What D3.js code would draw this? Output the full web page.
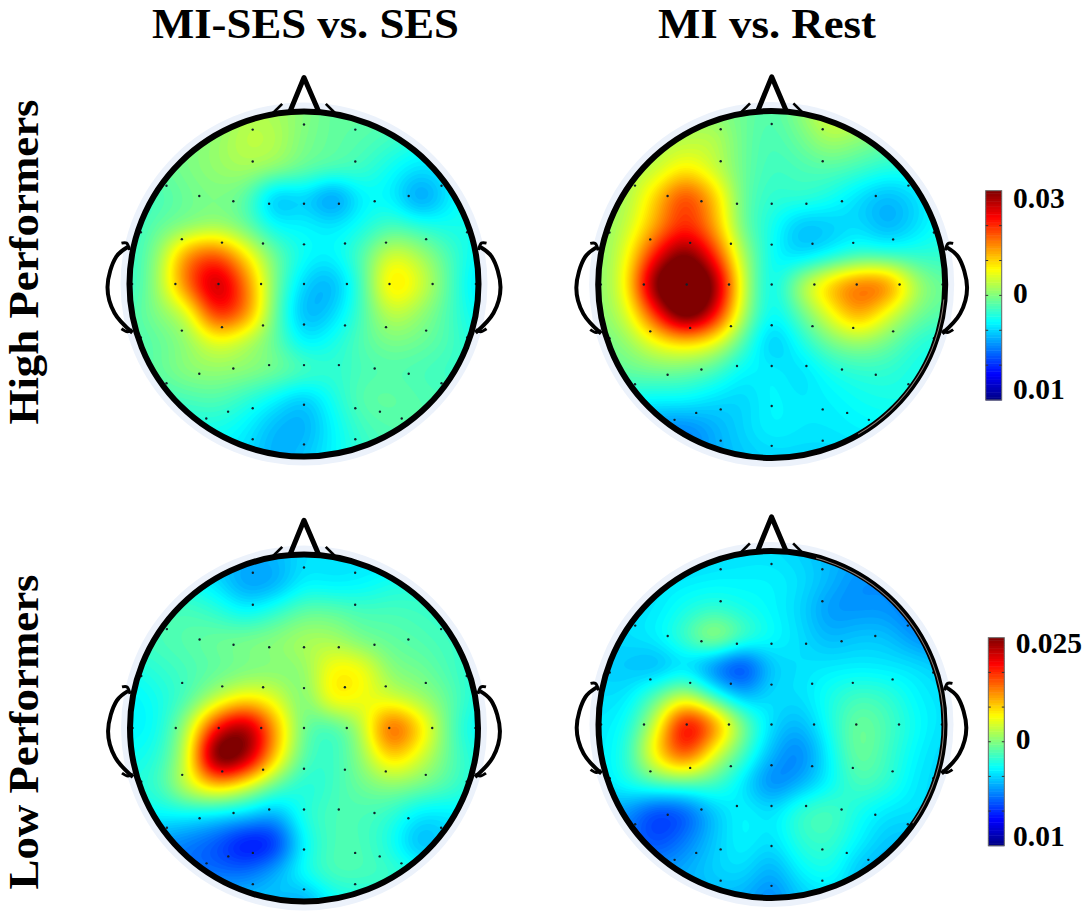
<!DOCTYPE html>
<html>
<head>
<meta charset="utf-8">
<script src="https://cdn.jsdelivr.net/npm/d3@7"></script>
<style>
html, body { margin: 0; padding: 0; background: #fff; }
text { font-family: "Liberation Serif", serif; font-weight: bold; fill: #000; }
</style>
</head>
<body>
<svg id="chart" width="1084" height="915"></svg>
<script>
// levels, -10 = bottom of colour bar, 0 = middle, 10 = top
// every map is 13 x 13 nodes over the head, top row first, left column first
var miSesHigh = [
  [0,0,0,0,1,.8,.2,-.5,-.5,-.8,-1,-1,-1],
  [-.5,-.5,0,.5,1.3,1.1,0,-.5,-.8,-1.2,-1.8,-2,-2],
  [-1,-.5,0,.5,.8,.3,-.5,-1,-1.3,-2.2,-3,-2.5,-2],
  [-1.5,-1,-.3,0,-.7,-3.6,-3.2,-4.6,-2.6,-2.6,-4.4,-2.8,-1.5],
  [-1.5,-.5,.3,.8,-.3,-2.3,-2.5,-2.8,-2,-1,-1.6,-2,-2],
  [-1.5,.5,4.8,6,3,-.3,-2.2,-2.5,-.8,1.8,.8,-1,-2.5],
  [-1.5,.8,5.5,9,5.2,0,-3.2,-3.8,-1,3.2,1.8,-.8,-3],
  [-1,.2,2,7,5,-.3,-3.8,-3.2,-1,1.4,.5,-1,-2.5],
  [-1,-.5,.5,2.2,1.2,-.5,-2.6,-2,-.8,0,-.3,-1,-2],
  [-1,-.5,.3,.5,.3,-.2,-1,-1.5,-1,-.8,-1,-1.3,-1.5],
  [-1.3,-1.3,-1,-.8,-1.5,-2.5,-3.4,-2,-.7,-.5,-.8,-1,-1],
  [-2,-2,-2,-2,-2.6,-3.8,-4,-2.5,-1.2,-.8,-.8,-.8,-.8],
  [-2,-2,-2,-2.5,-3,-4,-3.5,-2.5,-1.5,-1,-1,-1,-1]
];
var miRestHigh = [
  [0,0,0,.2,.3,-.3,-.8,.3,2,1.8,.5,0,0],
  [0,.5,.8,1.2,1.2,-.3,-1,-.3,.8,.3,-.3,-.5,-.5],
  [.3,.8,1.5,2.9,1.6,-.3,-1.2,-1,-.8,-1.2,-1.8,-1.8,-1.5],
  [.5,1,3.6,6.4,3.8,-.3,-1.5,-1.5,-2,-3,-3.8,-3,-2],
  [.3,1.5,4.5,7,4.5,-.2,-2,-3.6,-3.4,-3,-3.9,-3,-2],
  [.2,2.4,7.5,10.5,7,1,-2.2,-3,-2.2,-1.2,-1.3,-1.5,-1.5],
  [.2,2.9,10.5,13,10,1.8,-2.3,.8,3.6,5.4,5,1,-.5],
  [.2,1.9,7,11.5,8,1.2,-2.4,-.5,2.2,4.4,2.2,0,-.8],
  [-.3,.5,2.4,3.4,2.3,-.8,-3.5,-2,-.2,.6,-.2,-1.5,-2],
  [-.8,-.5,-.2,-.3,-1,-2.5,-2.6,-3,-2,-1.5,-1.5,-2,-2],
  [-2,-2.3,-2.5,-2.5,-3,-3.2,-2.5,-2.8,-2.6,-2.2,-2,-2,-2],
  [-3,-4,-4.6,-4.8,-4,-3.2,-2.6,-2.8,-2.8,-2.6,-2.5,-2.5,-2.5],
  [-4,-4,-4.5,-4.8,-4,-3.5,-3.2,-3.2,-3.2,-3,-3,-3,-3]
];
var miSesLow = [
  [-2.5,-3,-3,-3.5,-3.8,-3.8,-3,-3,-3,-3,-2.5,-2.5,-2.5],
  [-2,-2,-2.2,-3,-4.3,-4,-2.6,-2.7,-2.5,-2,-1.8,-1.8,-1.8],
  [-1.5,-1.2,-1,-1.5,-2.3,-1.5,-.5,-.5,-1,-1,-1.2,-1.5,-1.5],
  [-1.3,-1,-.7,-.3,0,.3,.9,.9,0,-.5,-.8,-1.2,-1.5],
  [-2,-1.5,-1,-.5,0,.2,.4,2.7,2.5,.3,-.2,-1,-1.8],
  [-2.6,-2,-.8,1.5,3,2,0,2.7,2.3,1.8,.8,-.5,-2],
  [-2.6,-2,1.2,7.5,9.5,4.4,-.3,-1,1.2,6,3.3,-.5,-2.5],
  [-2.2,-1.5,2,11,9.5,3.6,-.7,-1.3,.5,3.5,1.8,-.5,-2],
  [-1.8,-1.2,1.6,3.6,2,-.5,-1.8,-1.2,-.3,.3,-.2,-1,-2],
  [-2.5,-2.5,-2.5,-2.8,-3.3,-4,-1.8,-1,-1,-1.5,-2.8,-2.8,-2.5],
  [-4,-4.5,-5,-5.8,-7.2,-6.5,-2.5,-1,-1,-2,-3.8,-3,-2.5],
  [-4,-4.5,-5,-5.2,-5.2,-4,-2.2,-1,-1,-1.3,-2,-2.5,-2.5],
  [-3.5,-3.5,-3.5,-3.5,-3.5,-3.5,-4.2,-2.5,-2,-2,-2,-2,-2]
];
var miRestLow = [
  [-3.5,-3.5,-3.5,-3.5,-3.2,-3,-3,-3.3,-3.8,-4,-4.3,-4.5,-4.5],
  [-3.5,-3.3,-3,-2.8,-2.6,-2.6,-2.6,-3,-3.8,-4.6,-4.6,-5,-5],
  [-3.3,-3,-2.8,-2,-1.5,-2,-2.5,-3.2,-4.4,-4.5,-4.5,-5.2,-5.5],
  [-3.3,-3,-2.6,-1.2,.6,-1.2,-2.3,-3,-3.8,-3.5,-3.6,-4.5,-5],
  [-3.3,-3.5,-3.8,-3,-4.8,-6.2,-3.5,-3,-2.8,-2.7,-2.8,-3,-3.5],
  [-3,-2.8,-.8,1.2,-1.5,-3.8,-3,-3,-2,-1.2,-1.5,-2.5,-3],
  [-2.8,-2,1.8,7.8,5,0,-3,-3.8,-2,-.3,-1,-2.2,-3],
  [-2.8,-1.5,3,6.2,2.2,-1,-3.8,-4.8,-2.5,-.3,-1.2,-2.5,-3.2],
  [-3,-2,-.8,-.5,-1,-2.8,-4.8,-4,-2.5,-1,-1.5,-2.8,-3.2],
  [-4,-4.5,-6,-5.5,-3.5,-2.5,-3,-1.5,-1,-2,-2.8,-3,-3.2],
  [-4.5,-5,-6,-5,-3.5,-2.5,-3,-1.6,-1.3,-2.5,-3.5,-3.6,-3.6],
  [-4.5,-4.5,-4.5,-4,-3.3,-3,-4,-2.5,-2,-3.5,-4,-4,-4],
  [-4,-4,-4,-4,-3.8,-4,-4.8,-3.5,-3,-3.5,-4,-4,-4]
];

// electrode positions in head units, x right, y up
var elecX = [0,-.294,.294,-.294,.294,-.788,.788,-.6,.6,-.405,.405,-.2,.2,0,-.935,.935,-.7,.7,-.47,.47,-.235,.235,0,
  0,-.246,.246,-.49,.49,-.737,.737,-.985,.985,
  -.235,.235,0,-.47,.47,-.7,.7,-.935,.935,-.2,.2,0,-.405,.405,-.6,.6,-.788,.788,0,-.294,.294,-.435,.435,-.56,.56,-.294,.294,0];
var elecY = [.925,.895,.895,.71,.71,.57,.57,.51,.51,.48,.48,.465,.465,.465,.3,.3,.26,.26,.24,.24,.235,.235,.23,
  0,0,0,0,0,0,0,0,0,
  -.24,-.24,-.235,-.25,-.25,-.27,-.27,-.31,-.31,-.47,-.47,-.47,-.49,-.49,-.52,-.52,-.575,-.575,-.7,-.72,-.72,-.74,-.74,-.78,-.78,-.9,-.9,-.93];

var colTitles = ["MI-SES vs. SES", "MI vs. Rest"];
var rowTitles = ["High Performers", "Low Performers"];
var barTicksTop = ["0.03", "0", "0.01"];
var barTicksBottom = ["0.025", "0", "0.01"];
var barSteps = d3.range(-10, 10.01, .25);

// outline in head units
var nosePts = [[-.082,.996],[0,1.197],[.086,.996]];
var noseTickL = [[-.125,1.044],[-.182,.987]];
var noseTickR = [[.125,1.044],[.182,.987]];
var earPts = [[-1.01,.214],[-1.076,.158],[-1.126,-.017],[-1.086,-.168],[-.983,-.283]];
var earTickTop = [[-1.046,.237],[-1.017,.237],[-1,.197]];
var earTickBottom = [[-1.046,-.26],[-1.012,-.277],[-.983,-.266]];

var heads = [
  {grid: miSesHigh, cx: 304, cy: 284, rx: 174.5, ry: 172.5, rim: null},
  {grid: miRestHigh, cx: 771.7, cy: 284.5, rx: 173.5, ry: 173.5, rim: [95, 150]},
  {grid: miSesLow, cx: 304, cy: 728, rx: 174, ry: 173.5, rim: null},
  {grid: miRestLow, cx: 771.5, cy: 724.5, rx: 173, ry: 173.5, rim: [15, 125]}
];

var jetStops = [[0,0,128],[0,0,255],[0,128,255],[0,255,255],[128,255,128],[255,255,0],[255,128,0],[255,0,0],[128,0,0]];
var jet = d3.scaleLinear()
    .domain(d3.range(jetStops.length).map(function(i) { return -10 + i * 2.5; }))
    .range(jetStops.map(function(c) { return "rgb(" + c + ")"; }))
    .clamp(true);

var svg = d3.select("#chart");

// Catmull-Rom, the picture is a smooth map so the nodes get drawn with a smooth surface
function cr(p0, p1, p2, p3, t) {
    return .5 * (2 * p1 + (p2 - p0) * t + (2 * p0 - 5 * p1 + 4 * p2 - p3) * t * t + (3 * p1 - p0 - 3 * p2 + p3) * t * t * t);
}
function sample(grid, u, v) {
    var m = grid.length - 1;
    var x = Math.max(0, Math.min(m - 1e-6, u * m)), y = Math.max(0, Math.min(m - 1e-6, v * m));
    var i = Math.floor(x), j = Math.floor(y);
    var rows = [];
    for (var k = -1; k <= 2; k++) {
        var r = grid[Math.max(0, Math.min(m, j + k))];
        rows.push(cr(r[Math.max(0, i - 1)], r[i], r[i + 1], r[Math.min(m, i + 2)], x - i));
    }
    return cr(rows[0], rows[1], rows[2], rows[3], y - j);
}

var line = d3.line();
var n = 176;
var thresholds = d3.range(-10, 10.01, .2);

heads.forEach(function(h, idx) {
    var x = d3.scaleLinear().domain([-1, 1]).range([h.cx - h.rx, h.cx + h.rx]);
    var y = d3.scaleLinear().domain([-1, 1]).range([h.cy + h.ry, h.cy - h.ry]);
    var g = svg.append("g");

    g.append("clipPath").attr("id", "clip" + idx)
      .append("ellipse")
        .attr("cx", h.cx).attr("cy", h.cy).attr("rx", h.rx).attr("ry", h.ry);

    // pale ring round the scalp
    g.append("ellipse")
        .attr("cx", h.cx).attr("cy", h.cy).attr("rx", h.rx + 9).attr("ry", h.ry + 9)
        .attr("fill", "#ecf2fb");

    var field = new Array(n * n);
    for (var j = 0; j < n; j++) {
        for (var i = 0; i < n; i++) {
            field[j * n + i] = sample(h.grid, i / (n - 1), j / (n - 1));
        }
    }
    // takes the boxy corners of the node grid away
    d3.blur2({data: field, width: n, height: n}, 4);

    var px = d3.scaleLinear().domain([.5, n - .5]).range([h.cx - h.rx, h.cx + h.rx]);
    var py = d3.scaleLinear().domain([.5, n - .5]).range([h.cy - h.ry, h.cy + h.ry]);
    var path = d3.geoPath(d3.geoTransform({
        point: function(a, b) { this.stream.point(px(a), py(b)); }
    }));

    var map = g.append("g").attr("clip-path", "url(#clip" + idx + ")");
    map.append("ellipse")
        .attr("cx", h.cx).attr("cy", h.cy).attr("rx", h.rx).attr("ry", h.ry)
        .attr("fill", jet(-10));
    map.selectAll("path")
      .data(d3.contours().size([n, n]).thresholds(thresholds)(field))
      .enter().append("path")
        .attr("d", path)
        .attr("fill", function(d) { return jet(d.value); });

    g.selectAll("circle")
      .data(elecX)
      .enter().append("circle")
        .attr("cx", function(d) { return x(d); })
        .attr("cy", function(d, i) { return y(elecY[i]); })
        .attr("r", 1.2)
        .attr("fill", "#10202a");

    var toPx = function(p) { return [x(p[0]), y(p[1])]; };
    var mirror = function(p) { return [-p[0], p[1]]; };

    // ears and nose
    [earPts, earPts.map(mirror)].forEach(function(pts) {
        g.append("path")
            .attr("d", line.curve(d3.curveCatmullRom)(pts.map(toPx)))
            .attr("fill", "none").attr("stroke", "#000").attr("stroke-width", 4);
    });
    [earTickTop, earTickTop.map(mirror), earTickBottom, earTickBottom.map(mirror)].forEach(function(pts) {
        g.append("path")
            .attr("d", line.curve(d3.curveCatmullRom)(pts.map(toPx)))
            .attr("fill", "none").attr("stroke", "#000").attr("stroke-width", 3);
    });
    g.append("path")
        .attr("d", line.curve(d3.curveLinear)(nosePts.map(toPx)))
        .attr("fill", "none").attr("stroke", "#000").attr("stroke-width", 5).attr("stroke-linejoin", "round");
    [noseTickL, noseTickR].forEach(function(pts) {
        g.append("path")
            .attr("d", line.curve(d3.curveLinear)(pts.map(toPx)))
            .attr("fill", "none").attr("stroke", "#000").attr("stroke-width", 2.6);
    });

    g.append("ellipse")
        .attr("cx", h.cx).attr("cy", h.cy).attr("rx", h.rx).attr("ry", h.ry)
        .attr("fill", "none").attr("stroke", "#000").attr("stroke-width", 6);

    // thin lighter line inside the rim on the right heads
    if (h.rim) {
        g.append("path")
            .attr("transform", "translate(" + h.cx + "," + h.cy + ")")
            .attr("d", d3.arc()({
                innerRadius: h.rx - 1.2, outerRadius: h.rx - .2,
                startAngle: h.rim[0] * Math.PI / 180, endAngle: h.rim[1] * Math.PI / 180
            }))
            .attr("fill", "#8d7f78");
    }
});

// colour bars
function colourBar(x0, y0, y1, labels, labelY, labelX) {
    var w = 16;
    var yBar = d3.scaleLinear().domain([-10, 10]).range([y1, y0]);
    var bar = svg.append("g");
    bar.selectAll("rect")
      .data(barSteps.slice(0, -1))
      .enter().append("rect")
        .attr("x", x0)
        .attr("y", function(d) { return yBar(d + .25); })
        .attr("width", w)
        .attr("height", function(d) { return yBar(d) - yBar(d + .25) + .5; })
        .attr("fill", function(d) { return jet(d + .125); });
    bar.append("rect")
        .attr("x", x0).attr("y", y0).attr("width", w).attr("height", y1 - y0)
        .attr("fill", "none").attr("stroke", "#666").attr("stroke-width", 1);
    d3.range(-6.67, 6.7, 3.333).forEach(function(t) {
        bar.append("path")
            .attr("d", "M" + x0 + "," + yBar(t) + "h2.5M" + (x0 + w) + "," + yBar(t) + "h-2.5")
            .attr("stroke", "#333").attr("stroke-width", 1);
    });
    labels.forEach(function(t, i) {
        svg.append("text")
            .attr("x", labelX[i]).attr("y", labelY[i])
            .attr("font-size", 29.5)
            .text(t);
    });
}
colourBar(985.7, 190.7, 400, barTicksTop, [207.7, 303, 399], [1013, 1013, 1013]);
colourBar(988.3, 637.7, 845.7, barTicksBottom, [653, 748.7, 846], [1015.7, 1015.7, 1013]);

// titles, a bit narrower type stretched to the picture's width so the font box stays on the page
svg.selectAll(".col").data(colTitles).enter().append("text")
    .attr("class", "col")
    .attr("x", function(d, i) { return [305.5, 767][i]; })
    .attr("y", 38)
    .attr("text-anchor", "middle")
    .attr("font-size", 43)
    .attr("textLength", function(d, i) { return [307, 218][i]; })
    .attr("lengthAdjust", "spacingAndGlyphs")
    .text(function(d) { return d; });
svg.selectAll(".row").data(rowTitles).enter().append("text")
    .attr("class", "row")
    .attr("text-anchor", "middle")
    .attr("font-size", 43)
    .attr("textLength", function(d, i) { return [325, 315][i]; })
    .attr("lengthAdjust", "spacingAndGlyphs")
    .attr("transform", function(d, i) { return "translate(38," + [262, 732][i] + ") rotate(-90)"; })
    .text(function(d) { return d; });
</script>
</body>
</html>
